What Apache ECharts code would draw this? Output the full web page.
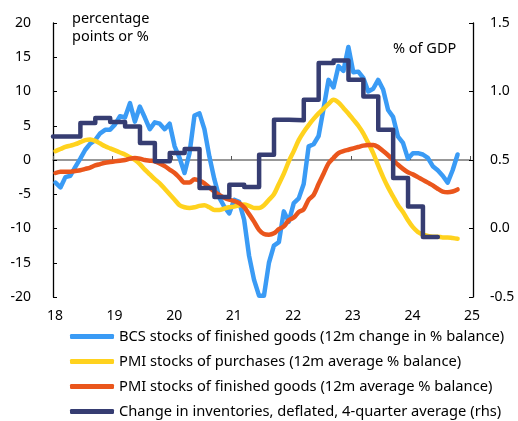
<!DOCTYPE html>
<html>
<head>
<meta charset="utf-8">
<script src="https://cdn.jsdelivr.net/npm/echarts@6/dist/echarts.min.js"></script>
<style>
html,body{margin:0;padding:0;background:#fff;}
#chart{width:518px;height:421px;}
</style>
</head>
<body>
<div id="chart"></div>
<script>
// ---- data (x in years since 2000, monthly from Jan 2018, plotted mid-month) ----
var startYear = 18;
var seriesNames = [
  'BCS stocks of finished goods (12m change in % balance)',
  'PMI stocks of purchases (12m average % balance)',
  'PMI stocks of finished goods (12m average % balance)',
  'Change in inventories, deflated, 4-quarter average (rhs)'
];
var bcsStocks = [
  -3.3,-4.0,-2.5,-2.3,-1.0,0.2,1.5,2.4,2.9,3.9,4.4,4.4,
  5.2,6.4,6.2,8.3,5.6,7.8,6.2,4.5,5.5,5.3,4.5,5.3,
  2.0,0.3,-1.9,1.0,6.5,6.8,4.5,0.5,-2.8,-5.5,-6.8,-7.8,
  -5.8,-6.1,-8.7,-14.0,-17.5,-19.8,-19.8,-15.0,-12.5,-12.0,-7.5,-9.0,
  -6.3,-5.6,-3.5,2.0,2.3,3.5,7.5,11.7,10.6,13.7,13.0,16.5,
  12.8,12.9,12.0,10.0,10.4,11.7,10.3,7.3,6.3,3.4,2.5,0.2,
  1.0,1.0,0.8,0.3,-0.9,-1.5,-2.3,-3.3,-1.5,0.8
];
var pmiPurchases = [
  1.3,1.6,1.9,2.1,2.3,2.6,2.9,3.0,2.8,2.4,2.0,1.7,
  1.4,1.1,0.8,0.4,0.0,-0.6,-1.4,-2.1,-2.8,-3.4,-4.2,-5.0,
  -5.8,-6.6,-6.9,-7.0,-6.9,-6.7,-6.6,-6.9,-7.3,-7.3,-7.1,-6.9,
  -6.8,-6.6,-6.5,-6.7,-7.0,-7.0,-6.6,-5.8,-5.0,-3.5,-2.0,-0.2,
  1.3,2.9,4.1,5.1,6.0,6.8,7.5,8.2,8.8,8.4,7.6,6.8,
  5.9,5.0,3.9,2.5,1.0,-0.8,-2.5,-4.0,-5.3,-6.6,-7.6,-8.8,
  -9.8,-10.5,-10.9,-11.1,-11.2,-11.2,-11.3,-11.3,-11.4,-11.5
];
var pmiFinished = [
  -1.9,-1.7,-1.7,-1.7,-1.6,-1.5,-1.3,-1.1,-0.8,-0.6,-0.4,-0.3,
  -0.2,-0.1,0.0,0.2,0.3,0.2,0.0,-0.1,-0.2,-0.5,-0.9,-1.4,
  -1.9,-2.6,-3.3,-3.3,-2.8,-3.0,-3.4,-4.0,-4.6,-5.1,-5.5,-5.8,
  -6.0,-6.3,-6.9,-7.9,-9.0,-10.2,-10.8,-10.9,-10.7,-10.1,-9.7,-8.8,
  -8.4,-7.6,-7.2,-5.8,-5.1,-3.5,-2.0,-0.5,0.3,1.0,1.3,1.5,
  1.7,1.9,2.1,2.2,2.2,1.9,1.3,0.7,0.0,-0.7,-1.3,-1.8,
  -2.1,-2.5,-2.9,-3.3,-3.7,-4.2,-4.6,-4.7,-4.6,-4.3
];
// quarterly, right axis: period start positions (years) and values (% of GDP)
var invPeriods = [18.0,18.46,18.71,18.96,19.21,19.46,19.71,19.96,20.21,20.46,20.71,20.96,
  21.21,21.46,21.71,21.96,22.21,22.46,22.71,22.96,23.21,23.46,23.71,23.96,24.21,24.46];
var inventories = [0.672,0.77,0.807,0.777,0.745,0.624,0.49,0.551,0.58,0.296,0.23,0.32,
  0.303,0.539,0.794,0.79,0.94,1.208,1.227,1.086,0.964,0.721,0.369,0.161,-0.062,-0.062];
var xTicks = [18,19,20,21,22,23,24,25];
var leftTicks = [-20,-15,-10,-5,0,5,10,15,20];
var rightTicks = [-0.5,0.0,0.5,1.0,1.5];

var colors = ['#3A9BF5','#FFD21E','#EA561C','#363D72'];
function monthly(arr){ return arr.map(function(v,i){ return [startYear + (i+0.5)/12, v]; }); }
var invData = invPeriods.map(function(t,i){ return [t, inventories[i]]; });

var FONT = 'Noto Sans';
var chart = echarts.init(document.getElementById('chart'), null, {renderer:'canvas'});
var option = {
  animation:false,
  backgroundColor:'#fff',
  textStyle:{fontFamily:FONT,color:'#000'},
  grid:{left:53,right:48,top:23,bottom:124,containLabel:false},
  title:[
    {text:'percentage\npoints or %',left:72,top:9.5,padding:0,textStyle:{fontFamily:FONT,fontSize:14.5,fontWeight:'normal',color:'#000',lineHeight:18.4}},
    {text:'% of GDP',left:393,top:41,padding:0,textStyle:{fontFamily:FONT,fontSize:14.5,fontWeight:'normal',color:'#000'}}
  ],
  legend:{
    orient:'vertical',left:70,top:328.5,padding:0,itemWidth:44,itemHeight:5,itemGap:9,icon:'roundRect',
    textStyle:{fontFamily:FONT,fontSize:14.7,color:'#000',lineHeight:16},
    data:seriesNames
  },
  xAxis:[
    {type:'value',min:xTicks[0],max:xTicks[xTicks.length-1],interval:1,position:'bottom',
     axisLine:{show:false,onZero:false},axisTick:{show:false},splitLine:{show:false},
     axisLabel:{fontFamily:FONT,fontSize:14,color:'#000',margin:12,padding:[0,0,0,4]}},
    {type:'value',min:xTicks[0],max:xTicks[xTicks.length-1],interval:1,position:'bottom',
     axisLine:{show:true,onZero:true,onZeroAxisIndex:0,lineStyle:{color:'#777',width:1.5}},
     axisTick:{show:true,inside:true,length:4,lineStyle:{color:'#555',width:1}},
     splitLine:{show:false},axisLabel:{show:false}}
  ],
  yAxis:[
    {type:'value',min:leftTicks[0],max:leftTicks[leftTicks.length-1],interval:5,position:'left',
     axisLine:{show:true,onZero:false,lineStyle:{color:'#000',width:1.3}},
     axisTick:{show:true,inside:true,length:4,lineStyle:{color:'#000'}},
     splitLine:{show:false},
     axisLabel:{fontFamily:FONT,fontSize:14,color:'#000',margin:22}},
    {type:'value',min:rightTicks[0],max:rightTicks[rightTicks.length-1],interval:0.5,position:'right',offset:3,
     axisLine:{show:true,onZero:false,lineStyle:{color:'#000',width:1.3}},
     axisTick:{show:true,inside:true,length:4,lineStyle:{color:'#000'}},
     splitLine:{show:false},
     axisLabel:{fontFamily:FONT,fontSize:14,color:'#000',margin:17,formatter:function(v){return v.toFixed(1);}}}
  ],
  series:[
    {name:seriesNames[0],type:'line',data:monthly(bcsStocks),showSymbol:false,symbol:'none',
     lineStyle:{color:colors[0],width:4.5,cap:'round',join:'round'},itemStyle:{color:colors[0]},z:2},
    {name:seriesNames[1],type:'line',data:monthly(pmiPurchases),showSymbol:false,symbol:'none',smooth:0.3,
     lineStyle:{color:colors[1],width:4.5,cap:'round',join:'round'},itemStyle:{color:colors[1]},z:3},
    {name:seriesNames[2],type:'line',data:monthly(pmiFinished),showSymbol:false,symbol:'none',smooth:0.3,
     lineStyle:{color:colors[2],width:4.5,cap:'round',join:'round'},itemStyle:{color:colors[2]},z:4},
    {name:seriesNames[3],type:'line',yAxisIndex:1,data:invData,step:'end',showSymbol:false,symbol:'none',
     lineStyle:{color:colors[3],width:4.5,cap:'round',join:'round'},itemStyle:{color:colors[3]},z:5}
  ]
};
chart.setOption(option);
</script>
</body>
</html>
